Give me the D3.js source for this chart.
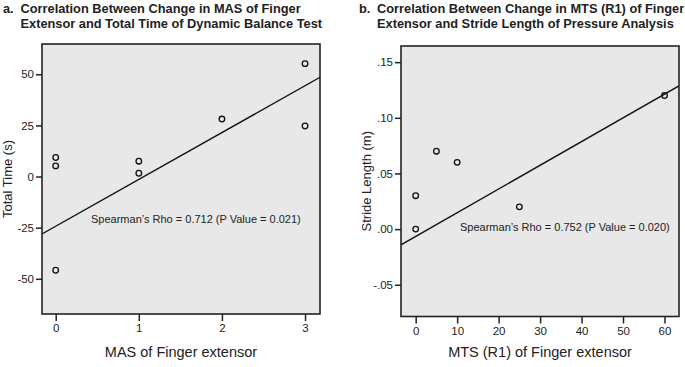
<!DOCTYPE html>
<html>
<head>
<meta charset="utf-8">
<script src="https://cdn.jsdelivr.net/npm/d3@7"></script>
<style>
  body { margin: 0; background: #fff; }
  svg text { font-family: Arial, "Liberation Sans", Helvetica, sans-serif; fill: #222; }
</style>
</head>
<body>
<svg id="drawing_region"></svg>
<script>
// panel a: MAS vs total time
const masValues = [0, 0, 0, 1, 1, 2, 3, 3];
const totalTime = [9.3, 5.2, -45.8, 7.5, 1.6, 28.1, 55.2, 24.7];
const fitA = [-24.3, 22.9];          // intercept, slope as drawn
const ticksAx = [0, 1, 2, 3];
const ticksAy = [-50, -25, 0, 25, 50];

// panel b: MTS (R1) vs stride length
const mtsValues = [0, 0, 5, 10, 25, 60];
const strideLength = [0.03, 0.0, 0.07, 0.06, 0.02, 0.12];
const fitB = [-0.0066, 0.00213];
const ticksBx = [0, 10, 20, 30, 40, 50, 60];
const ticksBy = [-0.05, 0, 0.05, 0.10, 0.15];

const svg = d3.select('#drawing_region')
    .attr('width', 685)
    .attr('height', 367);

class ScatterPanel {
    constructor( config, xs, ys, fit ) {
        this.config = config;
        this.data = xs.map( (x, i) => ({ x: x, y: ys[i] }) );
        this.fit = fit;
        this.init();
    }

    init() {
        let self = this;
        const c = self.config;
        self.g = svg.append('g');

        self.xscale = d3.scaleLinear().domain( c.xdomain ).range( [c.left, c.right] );
        self.yscale = d3.scaleLinear().domain( c.ydomain ).range( [c.bottom, c.top] );

        // title
        const title = self.g.append('text')
            .attr('font-weight', 'bold')
            .attr('font-size', c.titleSize);
        title.append('tspan').attr('x', c.titleX).attr('y', 12.5).text( c.letter );
        title.append('tspan').attr('x', c.titleX + c.titleIndent).attr('y', 12.5).text( c.title[0] );
        title.append('tspan').attr('x', c.titleX + c.titleIndent).attr('y', 27.5).text( c.title[1] );
    }

    render() {
        let self = this;
        const c = self.config;

        self.g.append('clipPath').attr('id', 'clip' + c.letter[0])
            .append('rect')
            .attr('x', c.left).attr('y', c.top)
            .attr('width', c.right - c.left).attr('height', c.bottom - c.top);

        self.g.append('rect')
            .attr('x', c.left).attr('y', c.top)
            .attr('width', c.right - c.left).attr('height', c.bottom - c.top)
            .attr('fill', '#e8e8e8');

        const xaxis = d3.axisBottom( self.xscale )
            .tickValues( c.xticks )
            .tickSize(7)
            .tickPadding(3)
            .tickFormat( d => String(d) )
            .tickSizeOuter(0);
        const yaxis = d3.axisLeft( self.yscale )
            .tickValues( c.yticks )
            .tickSize(6)
            .tickPadding(2)
            .tickFormat( c.yformat )
            .tickSizeOuter(0);

        const xg = self.g.append('g')
            .attr('transform', `translate(0, ${c.bottom})`)
            .call( xaxis );
        const yg = self.g.append('g')
            .attr('transform', `translate(${c.left}, 0)`)
            .call( yaxis );
        [xg, yg].forEach( ax => {
            ax.select('.domain').remove();
            ax.selectAll('line').attr('stroke', '#222').attr('stroke-width', 1.5);
            ax.selectAll('text').attr('font-size', 11.5).attr('font-family', null).attr('fill', '#222');
        });

        const plot = self.g.append('g').attr('clip-path', `url(#clip${c.letter[0]})`);
        const x0 = c.xdomain[0], x1 = c.xdomain[1];
        plot.append('line')
            .attr('x1', self.xscale( x0 )).attr('y1', self.yscale( self.fit[0] + self.fit[1] * x0 ))
            .attr('x2', self.xscale( x1 )).attr('y2', self.yscale( self.fit[0] + self.fit[1] * x1 ))
            .attr('stroke', '#111')
            .attr('stroke-width', 1.4);

        plot.selectAll('circle').data( self.data )
            .enter()
            .append('circle')
            .attr('cx', d => self.xscale( d.x ))
            .attr('cy', d => self.yscale( d.y ))
            .attr('r', 2.8)
            .attr('fill', 'none')
            .attr('stroke', '#111')
            .attr('stroke-width', 1.3);

        self.g.append('rect')
            .attr('x', c.left).attr('y', c.top)
            .attr('width', c.right - c.left).attr('height', c.bottom - c.top)
            .attr('fill', 'none')
            .attr('stroke', '#222')
            .attr('stroke-width', 1.6);

        self.g.append('text')
            .attr('x', c.noteX).attr('y', c.noteY)
            .attr('font-size', 11)
            .text( c.note );

        self.g.append('text')
            .attr('x', (c.left + c.right) / 2).attr('y', 357)
            .attr('text-anchor', 'middle')
            .attr('font-size', 14.5)
            .text( c.xlabel );

        self.g.append('text')
            .attr('transform', `translate(${c.ylabelX}, ${(c.top + c.bottom) / 2}) rotate(-90)`)
            .attr('text-anchor', 'middle')
            .attr('font-size', 13)
            .text( c.ylabel );
    }
}

const panelA = new ScatterPanel({
    letter: 'a.', titleX: 3, titleIndent: 17.5, titleSize: 12.8,
    title: ['Correlation Between Change in MAS of Finger', 'Extensor and Total Time of Dynamic Balance Test'],
    left: 42, right: 320, top: 44, bottom: 314,
    xdomain: [-0.165, 3.18], ydomain: [-67.2, 64.8],
    xticks: ticksAx, yticks: ticksAy, yformat: d => String(d),
    note: 'Spearman\u2019s Rho = 0.712 (P Value = 0.021)', noteX: 91, noteY: 223,
    xlabel: 'MAS of Finger extensor', ylabel: 'Total Time (s)', ylabelX: 12
}, masValues, totalTime, fitA);
panelA.render();

const panelB = new ScatterPanel({
    letter: 'b.', titleX: 359, titleIndent: 18, titleSize: 12.8,
    title: ['Correlation Between Change in MTS (R1) of Finger', 'Extensor and Stride Length of Pressure Analysis'],
    left: 401, right: 679, top: 46, bottom: 316.5,
    xdomain: [-3.54, 63.5], ydomain: [-0.0785, 0.1645],
    xticks: ticksBx, yticks: ticksBy,
    yformat: v => v.toFixed(2).replace('0.', '.'),
    note: 'Spearman\u2019s Rho = 0.752 (P Value = 0.020)', noteX: 460, noteY: 230.5,
    xlabel: 'MTS (R1) of Finger extensor', ylabel: 'Stride Length (m)', ylabelX: 371
}, mtsValues, strideLength, fitB);
panelB.render();
</script>
</body>
</html>
